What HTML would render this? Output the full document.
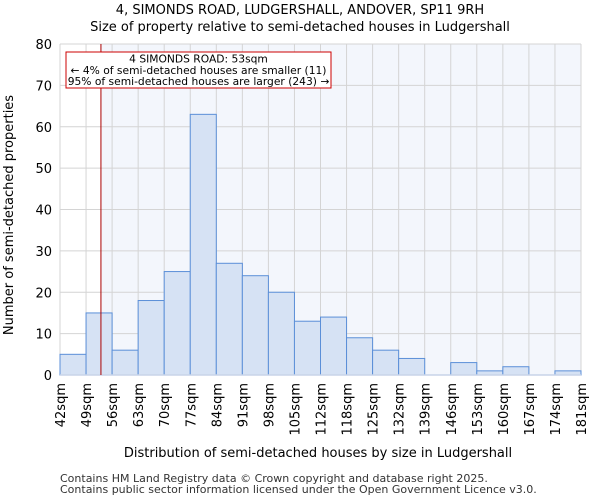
<!DOCTYPE html>
<html><head><meta charset="utf-8"><style>
body{margin:0;background:#fff;font-family:"DejaVu Sans","Liberation Sans",sans-serif;}
</style></head><body>
<svg width="600" height="500" xmlns="http://www.w3.org/2000/svg" font-family="DejaVu Sans, Liberation Sans, sans-serif">
<text x="300" y="14" text-anchor="middle" font-size="13">4, SIMONDS ROAD, LUDGERSHALL, ANDOVER, SP11 9RH</text>
<text x="300" y="31" text-anchor="middle" font-size="13">Size of property relative to semi-detached houses in Ludgershall</text>
<g id="plot"></g>
<text x="318" y="457" text-anchor="middle" font-size="13">Distribution of semi-detached houses by size in Ludgershall</text>
<text transform="translate(13,215) rotate(-90)" text-anchor="middle" font-size="13">Number of semi-detached properties</text>
<text x="60" y="482" font-size="11" fill="#333">Contains HM Land Registry data © Crown copyright and database right 2025.</text>
<text x="60" y="493" font-size="11" fill="#333">Contains public sector information licensed under the Open Government Licence v3.0.</text>
</svg>
<script>
const binEdges=[42,49,56,63,70,77,84,91,98,105,112,118,125,132,139,146,153,160,167,174,181];
const tickLabels=["42sqm","49sqm","56sqm","63sqm","70sqm","77sqm","84sqm","91sqm","98sqm","105sqm","112sqm","118sqm","125sqm","132sqm","139sqm","146sqm","153sqm","160sqm","167sqm","174sqm","181sqm"];
const counts=[5,15,6,18,25,63,27,24,20,13,14,9,6,4,0,3,1,2,0,1];
const yTicks=[0,10,20,30,40,50,60,70,80];
const propertySize=53;
const NS="http://www.w3.org/2000/svg";
const L=60,R=581,T=44,B=375,n=counts.length;
const xi=i=>L+(R-L)*i/n;
const xv=v=>{for(let i=0;i<n;i++){if(v<=binEdges[i+1])return xi(i)+(v-binEdges[i])/(binEdges[i+1]-binEdges[i])*(R-L)/n;}return R;};
const y=v=>B-(B-T)*v/80;
const g=document.getElementById('plot');
function mk(t,a){const e=document.createElementNS(NS,t);for(const k in a)e.setAttribute(k,a[k]);g.appendChild(e);return e;}
const px=xv(propertySize);
let e=mk('rect',{x:px,y:T,width:R-px,height:B-T,fill:'#f3f6fc'});


for(let i=0;i<=n;i++){e=mk('line',{x1:xi(i),x2:xi(i),y1:T,y2:B,stroke:'#d4d4d4','stroke-width':1});

}
yTicks.forEach(v=>{e=mk('line',{x1:L,x2:R,y1:y(v),y2:y(v),stroke:'#d4d4d4','stroke-width':1});


e=mk('text',{x:L-8,y:y(v)+5,'text-anchor':'end','font-size':13});e.textContent=v;

});
counts.forEach((c,i)=>{if(c<=0)return;e=mk('rect',{x:xi(i),y:y(c),width:(R-L)/n,height:B-y(c),fill:'#d6e2f4',stroke:'#5b8fd8','stroke-width':1});

});
e=mk('line',{x1:L,x2:R,y1:B,y2:B,stroke:'#c8d4e8','stroke-width':1.5});


tickLabels.forEach((t,i)=>{const x=xi(i);e=mk('text',{transform:`translate(${x+5},${383}) rotate(-90)`,'text-anchor':'end','font-size':13});e.textContent=t;

});
e=mk('line',{x1:px,x2:px,y1:T,y2:B,stroke:'#aa0000','stroke-width':1});


e=mk('rect',{x:66,y:52,width:265,height:36,fill:'#fff',stroke:'#cc0000','stroke-width':1});


["4 SIMONDS ROAD: 53sqm","← 4% of semi-detached houses are smaller (11)","95% of semi-detached houses are larger (243) →"].forEach((t,k)=>{e=mk('text',{x:198.5,y:62.5+k*11.3,'text-anchor':'middle','font-size':10.7});e.textContent=t;

});
</script>
</body></html>
